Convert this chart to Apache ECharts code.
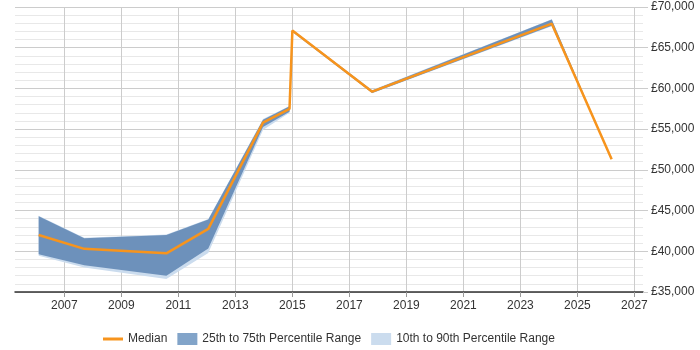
<!DOCTYPE html>
<html>
<head>
<meta charset="utf-8">
<script src="https://cdn.jsdelivr.net/npm/echarts@6/dist/echarts.min.js"></script>
<style>
  html, body { margin: 0; padding: 0; background: #fff; }
  #main { width: 700px; height: 350px; }
</style>
</head>
<body>
<div id="main"></div>
<script>
  // salary percentiles by year
  var years  = [2006.1, 2007.7, 2010.58, 2012.05, 2013.97, 2014.9, 2015.0, 2017.8, 2024.1, 2026.2];
  var median = [42000, 40300, 39750, 42750, 55800, 57500, 67100, 59600, 67950, 51300];
  var p25    = [39650, 38300, 37000, 40350, 55250, 57150, 66950, 59450, 67700, 51300];
  var p75    = [44300, 41600, 42000, 43900, 56150, 57800, 67200, 59750, 68450, 51300];
  var p10    = [39450, 38000, 36600, 39800, 54900, 57000, 66900, 59400, 67650, 51300];
  var p90    = [44350, 41650, 42050, 43950, 56250, 57850, 67250, 59800, 68500, 51300];
  var yearTicks = [2007, 2009, 2011, 2013, 2015, 2017, 2019, 2021, 2023, 2025, 2027];

  function pairs(vals) {
    return years.map(function (y, i) { return [y, vals[i]]; });
  }

  // band polygon: upper edge forward, lower edge back
  function bandSeries(name, lower, upper, color) {
    return {
      name: name,
      type: 'custom',
      data: [0],
      itemStyle: { color: color },
      silent: true,
      renderItem: function (params, api) {
        var pts = [];
        for (var i = 0; i < years.length; i++) pts.push(api.coord([years[i], upper[i]]));
        for (var j = years.length - 1; j >= 0; j--) pts.push(api.coord([years[j], lower[j]]));
        return {
          type: 'polygon',
          shape: { points: pts },
          style: { fill: color }
        };
      }
    };
  }

  var chart = echarts.init(document.getElementById('main'));
  var font = 'Liberation Sans, Arial, sans-serif';

  chart.setOption({
    animation: false,
    textStyle: { fontFamily: font },
    grid: { left: 15, right: 57, top: 7, bottom: 58 },
    legend: {
      left: 98,
      top: 328,
      itemWidth: 20,
      itemHeight: 12,
      itemGap: 10,
      textStyle: { fontSize: 12, color: '#333', fontFamily: font },
      data: [
        { name: 'Median', icon: 'path://M0,0h20v3h-20z' },
        { name: '25th to 75th Percentile Range', icon: 'rect', itemStyle: { color: '#82a4c9' } },
        { name: '10th to 90th Percentile Range', icon: 'rect', itemStyle: { color: '#cbdcee' } }
      ]
    },
    xAxis: {
      type: 'value',
      min: 2005.27,
      max: 2027.3,
      axisLine: { show: true, onZero: false, lineStyle: { color: '#333', width: 1.5 } },
      axisTick: { show: true, length: 5, lineStyle: { color: '#999' }, customValues: yearTicks },
      axisLabel: {
        color: '#333', fontSize: 12, margin: 8, customValues: yearTicks,
        formatter: function (v) { return String(v); }
      },
      splitLine: { show: true, lineStyle: { color: '#ccc' } }
    },
    yAxis: {
      type: 'value',
      position: 'right',
      min: 35000,
      max: 70000,
      interval: 5000,
      axisLine: { show: false },
      axisTick: { show: true, length: 5, lineStyle: { color: '#ccc' } },
      axisLabel: {
        color: '#333', fontSize: 12, margin: 8,
        formatter: function (v) { return '£' + v.toLocaleString('en-GB'); }
      },
      splitLine: { show: true, lineStyle: { color: '#ccc' } },
      minorTick: { show: false, splitNumber: 5 },
      minorSplitLine: { show: true, lineStyle: { color: '#e8e8e8' } }
    },
    series: [
      bandSeries('10th to 90th Percentile Range', p10, p90, '#cbdcee'),
      bandSeries('25th to 75th Percentile Range', p25, p75, '#6d91bb'),
      {
        name: 'Median', type: 'line', data: pairs(median),
        symbol: 'none',
        itemStyle: { color: '#f7941d' },
        lineStyle: { color: '#f7941d', width: 2.5 }
      }
    ]
  });
</script>
</body>
</html>
